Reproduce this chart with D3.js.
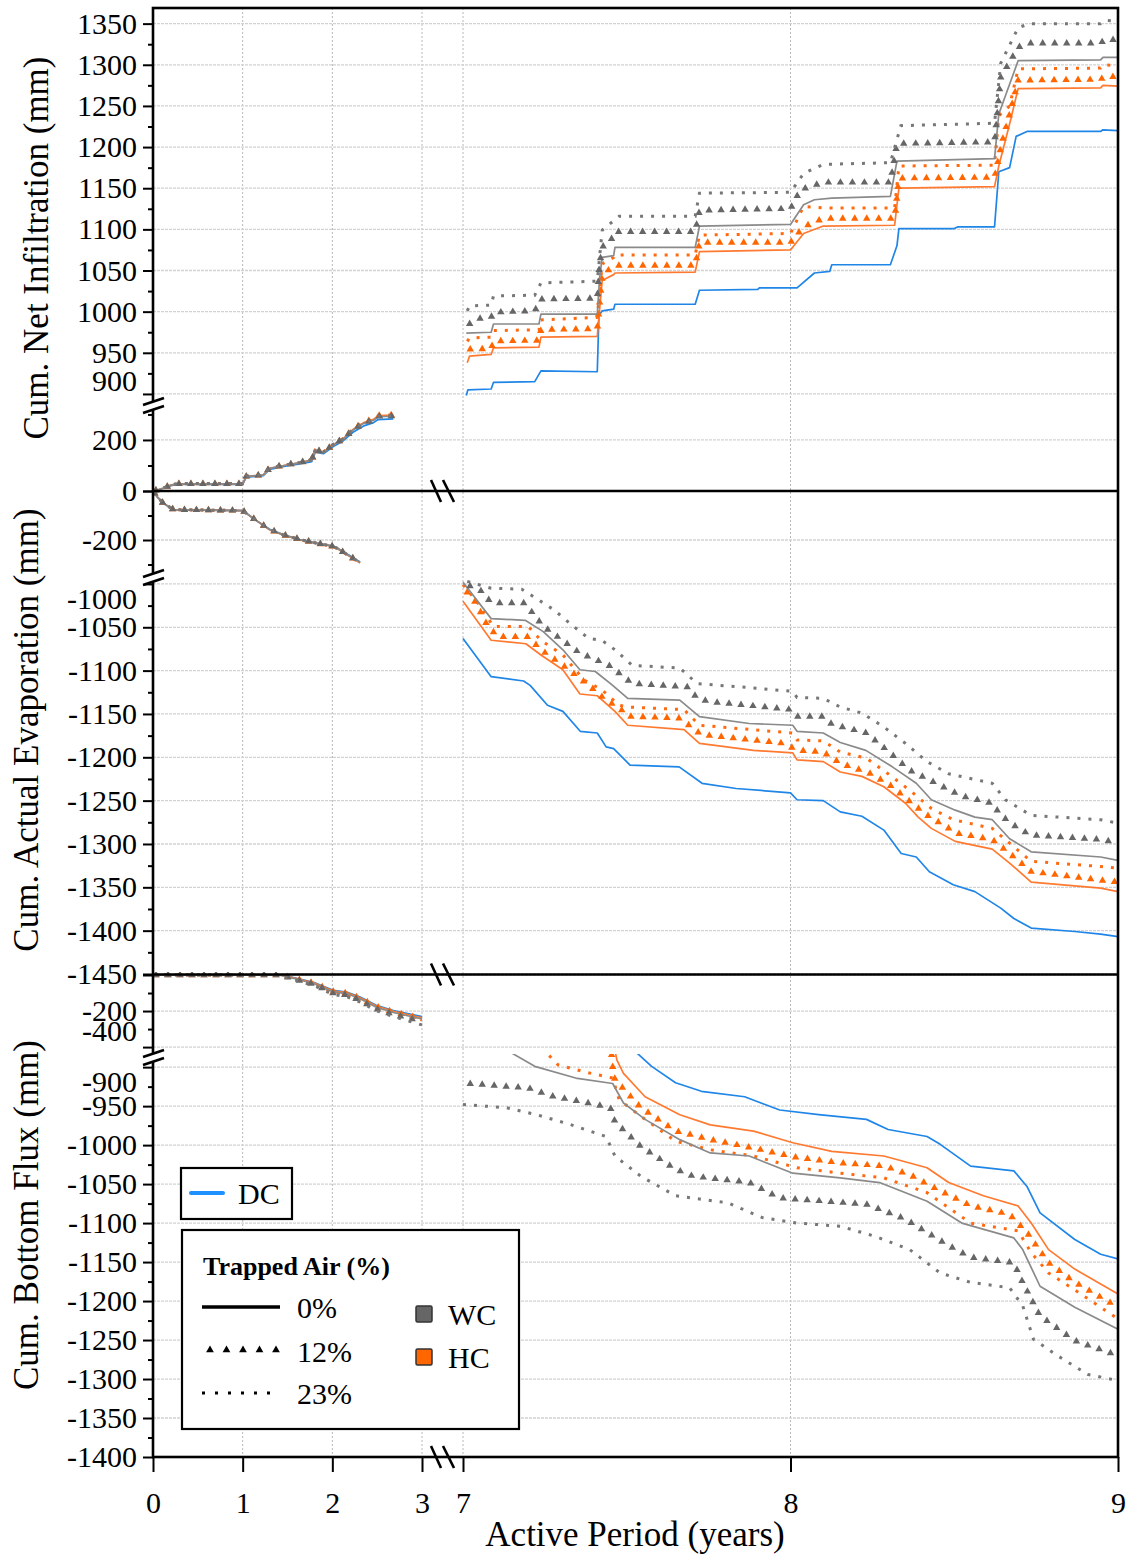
<!DOCTYPE html>
<html>
<head>
<meta charset="utf-8">
<script src="https://cdn.jsdelivr.net/npm/d3@7"></script>
<style>
  body { margin: 0; background: #fff; }
  svg text { font-family: "Liberation Serif", "Times New Roman", serif !important; fill: #000; }
</style>
</head>
<body>
<svg id="chart" width="1130" height="1557"></svg>
<script>
// ---- Cumulative net infiltration (mm): [year, value] ----
const infiltrationDC = [[0,0],[0.05,4],[0.11,10],[0.2,21],[0.28,26],[1.0,26],[1.04,54],[1.23,60],[1.3,85],[1.49,98],[1.64,106],[1.77,115],[1.81,152],[1.9,146],[2.01,174],[2.12,196],[2.23,230],[2.35,255],[2.46,268],[2.51,280],[2.68,283],
  [7.01,898],[7.015,905],[7.086,906],[7.093,914],[7.219,915],[7.238,928],[7.41,927],[7.415,995],[7.425,1001],[7.46,1003],[7.464,1009],[7.709,1009],[7.722,1026],[7.9,1027],[7.905,1029],[8.02,1029],[8.073,1047],[8.12,1049],[8.126,1057],[8.305,1057],[8.325,1080],[8.331,1101],[8.5,1101],[8.51,1103],[8.623,1103],[8.636,1170],[8.669,1175],[8.689,1213],[8.722,1219],[8.947,1219],[8.954,1221],[9.0,1220]];
const infiltrationWC0 = [[0,0],[0.05,4],[0.11,11],[0.2,23],[0.28,28],[1.0,28],[1.04,57],[1.23,63],[1.3,89],[1.49,102],[1.64,111],[1.77,121],[1.81,161],[1.9,151],[2.01,181],[2.12,203],[2.23,239],[2.35,265],[2.46,277],[2.51,291],[2.68,293],
  [7.01,974],[7.086,975],[7.093,985],[7.232,985],[7.238,997],[7.41,997],[7.417,1040],[7.425,1066],[7.46,1068],[7.464,1078],[7.709,1078],[7.722,1104],[8.0,1106],[8.04,1130],[8.073,1136],[8.126,1138],[8.305,1140],[8.325,1183],[8.623,1186],[8.636,1240],[8.656,1262],[8.695,1305],[8.947,1306],[8.954,1309],[9.0,1309]];
const infiltrationWC12 = [[0,0],[0.05,4],[0.11,11],[0.2,23],[0.28,28],[1.0,28],[1.04,57],[1.23,63],[1.3,90],[1.49,103],[1.64,112],[1.77,122],[1.81,162],[1.9,152],[2.01,182],[2.12,204],[2.23,240],[2.35,266],[2.46,278],[2.51,292],[2.68,294],
  [7.013,983],[7.04,991],[7.086,993],[7.093,999],[7.219,1001],[7.238,1015],[7.41,1016],[7.417,1060],[7.43,1083],[7.46,1090],[7.464,1097],[7.709,1097],[7.722,1123],[8.0,1125],[8.03,1148],[8.1,1157],[8.305,1157],[8.325,1204],[8.623,1206],[8.642,1285],[8.695,1321],[8.722,1326],[8.947,1326],[8.96,1331],[9.0,1330]];
const infiltrationWC23 = [[0,0],[0.05,4],[0.11,11],[0.2,24],[0.28,29],[1.0,29],[1.04,58],[1.23,64],[1.3,90],[1.49,103],[1.64,112],[1.77,122],[1.81,163],[1.9,153],[2.01,183],[2.12,205],[2.23,241],[2.35,267],[2.46,279],[2.51,293],[2.68,295],
  [7.013,1001],[7.02,1007],[7.086,1008],[7.093,1019],[7.219,1020],[7.238,1035],[7.41,1037],[7.425,1099],[7.477,1116],[7.709,1116],[7.722,1144],[8.0,1145],[8.04,1168],[8.1,1179],[8.305,1181],[8.337,1226],[8.623,1229],[8.642,1302],[8.695,1345],[8.729,1350],[8.947,1350],[8.96,1354],[9.0,1353]];
const infiltrationHC0 = [[0,0],[0.05,4],[0.11,11],[0.2,23],[0.28,28],[1.0,28],[1.04,57],[1.23,63],[1.3,89],[1.49,102],[1.64,111],[1.77,121],[1.81,160],[1.9,152],[2.01,181],[2.12,204],[2.23,241],[2.35,268],[2.46,281],[2.51,295],[2.68,297],
  [7.013,938],[7.02,946],[7.086,948],[7.093,956],[7.232,957],[7.238,969],[7.41,970],[7.425,1038],[7.46,1045],[7.464,1047],[7.709,1048],[7.722,1073],[8.0,1075],[8.04,1095],[8.1,1104],[8.318,1105],[8.331,1150],[8.623,1152],[8.636,1177],[8.669,1228],[8.695,1271],[8.947,1272],[8.954,1275],[9.0,1274]];
const infiltrationHC12 = [[0,0],[0.05,4],[0.11,11],[0.2,23],[0.28,28],[1.0,28],[1.04,57],[1.23,63],[1.3,89],[1.49,102],[1.64,111],[1.77,121],[1.81,161],[1.9,152],[2.01,181],[2.12,204],[2.23,242],[2.35,268],[2.46,282],[2.51,296],[2.68,298],
  [7.013,954],[7.086,955],[7.093,964],[7.232,965],[7.238,978],[7.41,979],[7.425,1046],[7.46,1054],[7.464,1056],[7.709,1056],[7.722,1084],[8.0,1084],[8.04,1103],[8.1,1113],[8.318,1113],[8.331,1162],[8.623,1163],[8.645,1205],[8.669,1240],[8.695,1281],[8.947,1282],[8.96,1286],[9.0,1285]];
const infiltrationHC23 = [[0,0],[0.05,4],[0.11,11],[0.2,23],[0.28,28],[1.0,28],[1.04,57],[1.23,63],[1.3,90],[1.49,103],[1.64,112],[1.77,122],[1.81,161],[1.9,153],[2.01,182],[2.12,205],[2.23,242],[2.35,269],[2.46,282],[2.51,296],[2.68,298],
  [7.013,964],[7.02,968],[7.086,969],[7.093,977],[7.232,978],[7.238,990],[7.41,993],[7.425,1058],[7.46,1066],[7.464,1069],[7.709,1069],[7.722,1093],[8.0,1095],[8.04,1128],[8.1,1126],[8.318,1126],[8.331,1177],[8.623,1178],[8.636,1238],[8.669,1250],[8.695,1295],[8.947,1296],[8.954,1300],[9.0,1299]];

// ---- Cumulative actual evaporation (mm) ----
const evaporationDC = [[0,0],[0.05,-25],[0.115,-50],[0.23,-76],[1.0,-80],[1.16,-122],[1.3,-156],[1.45,-178],[1.64,-200],[1.82,-214],[2.0,-224],[2.05,-231],[2.16,-256],[2.31,-290],
  [7.0,-1063],[7.086,-1107],[7.185,-1112],[7.205,-1117],[7.258,-1140],[7.305,-1147],[7.358,-1170],[7.41,-1172],[7.437,-1188],[7.46,-1190],[7.51,-1209],[7.66,-1211],[7.73,-1230],[7.834,-1236],[8.0,-1241],[8.02,-1249],[8.1,-1250],[8.152,-1263],[8.218,-1268],[8.285,-1284],[8.338,-1311],[8.384,-1315],[8.424,-1332],[8.497,-1347],[8.563,-1355],[8.642,-1374],[8.682,-1386],[8.735,-1397],[8.868,-1401],[8.947,-1404],[9.0,-1407]];
const evaporationWC0 = [[0,0],[0.05,-25],[0.115,-50],[0.23,-76],[1.0,-80],[1.16,-123],[1.3,-157],[1.45,-178],[1.64,-198],[1.82,-212],[2.0,-225],[2.05,-233],[2.16,-258],[2.31,-292],
  [7.0,-998],[7.086,-1040],[7.19,-1042],[7.245,-1055],[7.305,-1076],[7.357,-1099],[7.404,-1101],[7.457,-1117],[7.503,-1132],[7.662,-1134],[7.722,-1153],[7.874,-1161],[8.007,-1163],[8.02,-1170],[8.1,-1172],[8.152,-1183],[8.23,-1192],[8.311,-1211],[8.384,-1230],[8.43,-1249],[8.503,-1261],[8.563,-1269],[8.616,-1272],[8.669,-1294],[8.735,-1309],[8.947,-1315],[9.0,-1319]];
const evaporationWC12 = [[0,0],[0.05,-25],[0.115,-50],[0.23,-76],[1.0,-80],[1.16,-123],[1.3,-157],[1.45,-178],[1.64,-198],[1.82,-212],[2.0,-225],[2.05,-233],[2.16,-258],[2.31,-293],
  [7.013,-1001],[7.06,-1009],[7.08,-1019],[7.093,-1022],[7.185,-1022],[7.205,-1030],[7.245,-1049],[7.318,-1069],[7.357,-1080],[7.397,-1086],[7.45,-1095],[7.49,-1107],[7.517,-1115],[7.689,-1119],[7.715,-1132],[7.755,-1136],[8.0,-1145],[8.02,-1153],[8.1,-1153],[8.126,-1162],[8.232,-1172],[8.298,-1193],[8.364,-1215],[8.444,-1230],[8.523,-1245],[8.616,-1253],[8.642,-1267],[8.695,-1282],[8.735,-1290],[8.947,-1295],[9.0,-1299]];
const evaporationWC23 = [[0,0],[0.05,-25],[0.115,-50],[0.23,-76],[1.0,-80],[1.16,-123],[1.3,-157],[1.45,-178],[1.64,-198],[1.82,-212],[2.0,-225],[2.05,-233],[2.16,-258],[2.31,-293],
  [7.013,-997],[7.086,-1005],[7.179,-1006],[7.225,-1017],[7.278,-1030],[7.331,-1047],[7.384,-1063],[7.424,-1065],[7.464,-1076],[7.517,-1094],[7.662,-1097],[7.715,-1115],[7.887,-1120],[8.007,-1124],[8.02,-1131],[8.1,-1132],[8.152,-1142],[8.218,-1149],[8.285,-1165],[8.351,-1184],[8.417,-1205],[8.483,-1219],[8.616,-1230],[8.656,-1249],[8.735,-1267],[8.947,-1272],[9.0,-1276]];
const evaporationHC0 = [[0,0],[0.05,-25],[0.115,-50],[0.23,-76],[1.0,-80],[1.16,-123],[1.3,-158],[1.45,-179],[1.64,-199],[1.82,-213],[2.0,-226],[2.05,-234],[2.16,-259],[2.31,-294],
  [7.0,-1020],[7.086,-1065],[7.192,-1069],[7.238,-1082],[7.305,-1099],[7.357,-1127],[7.41,-1129],[7.464,-1147],[7.503,-1163],[7.675,-1168],[7.722,-1184],[7.887,-1192],[8.007,-1195],[8.02,-1203],[8.1,-1205],[8.152,-1217],[8.218,-1222],[8.285,-1234],[8.351,-1253],[8.39,-1269],[8.43,-1282],[8.503,-1297],[8.616,-1306],[8.669,-1322],[8.735,-1344],[8.947,-1351],[9.0,-1355]];
const evaporationHC12 = [[0,0],[0.05,-25],[0.115,-50],[0.23,-76],[1.0,-80],[1.16,-123],[1.3,-158],[1.45,-179],[1.64,-199],[1.82,-213],[2.0,-226],[2.05,-234],[2.16,-259],[2.31,-294],
  [7.007,-1007],[7.04,-1022],[7.073,-1047],[7.106,-1061],[7.199,-1061],[7.238,-1076],[7.305,-1094],[7.384,-1117],[7.43,-1132],[7.483,-1145],[7.503,-1153],[7.662,-1155],[7.728,-1174],[7.98,-1184],[8.02,-1192],[8.1,-1194],[8.152,-1207],[8.245,-1219],[8.311,-1234],[8.364,-1251],[8.417,-1267],[8.51,-1288],[8.616,-1295],[8.669,-1311],[8.735,-1332],[8.947,-1342],[9.0,-1344]];
const evaporationHC23 = [[0,0],[0.05,-25],[0.115,-50],[0.23,-76],[1.0,-80],[1.16,-123],[1.3,-158],[1.45,-179],[1.64,-199],[1.82,-213],[2.0,-226],[2.05,-234],[2.16,-259],[2.31,-294],
  [7.0,-1001],[7.04,-1019],[7.093,-1049],[7.199,-1049],[7.238,-1065],[7.305,-1082],[7.37,-1111],[7.424,-1122],[7.477,-1140],[7.503,-1142],[7.675,-1145],[7.722,-1163],[8.007,-1172],[8.02,-1180],[8.1,-1181],[8.152,-1194],[8.232,-1201],[8.298,-1219],[8.364,-1238],[8.43,-1259],[8.497,-1272],[8.616,-1282],[8.669,-1299],[8.735,-1320],[8.947,-1326],[9.0,-1328]];

// ---- Cumulative bottom flux (mm) ----
const bottomFluxDC = [[0,0],[1.45,0],[1.53,-10],[1.79,-40],[2.01,-85],[2.16,-95],[2.31,-122],[2.49,-168],[2.68,-198],[3.0,-231],
  [7.5,-870],[7.576,-899],[7.649,-920],[7.728,-931],[7.86,-938],[7.967,-955],[8.086,-961],[8.232,-967],[8.298,-980],[8.417,-989],[8.457,-999],[8.55,-1027],[8.682,-1033],[8.722,-1053],[8.762,-1087],[8.868,-1121],[8.947,-1140],[9.0,-1146]];
const bottomFluxWC0 = [[0,0],[1.4,0],[1.53,-14],[1.79,-47],[2.01,-94],[2.16,-103],[2.31,-132],[2.49,-179],[2.68,-208],[3.0,-244],
  [7.1,-870],[7.219,-899],[7.344,-914],[7.457,-921],[7.49,-946],[7.556,-967],[7.662,-993],[7.755,-1010],[7.874,-1014],[8.007,-1036],[8.152,-1042],[8.272,-1048],[8.417,-1072],[8.523,-1100],[8.682,-1119],[8.709,-1134],[8.762,-1181],[8.868,-1208],[9.0,-1236]];
const bottomFluxWC12 = [[0,0],[1.39,0],[1.53,-17],[1.79,-52],[2.01,-101],[2.16,-111],[2.31,-141],[2.49,-189],[2.68,-219],[3.0,-259],
  [7.013,-921],[7.2,-927],[7.278,-938],[7.357,-944],[7.45,-952],[7.464,-970],[7.543,-1002],[7.649,-1031],[7.702,-1040],[7.874,-1048],[7.967,-1068],[8.232,-1076],[8.351,-1095],[8.483,-1129],[8.55,-1144],[8.682,-1151],[8.709,-1176],[8.762,-1219],[8.868,-1251],[9.0,-1270]];
const bottomFluxWC23 = [[0,0],[1.38,0],[1.53,-20],[1.79,-58],[2.01,-108],[2.16,-120],[2.31,-150],[2.49,-198],[2.68,-230],[3.0,-277],
  [7.0,-948],[7.132,-952],[7.225,-961],[7.331,-974],[7.437,-989],[7.464,-1014],[7.543,-1040],[7.649,-1065],[7.808,-1074],[7.914,-1093],[8.02,-1100],[8.152,-1104],[8.258,-1117],[8.364,-1134],[8.457,-1164],[8.55,-1176],[8.669,-1183],[8.709,-1206],[8.742,-1249],[8.815,-1270],[8.907,-1294],[9.0,-1302]];
const bottomFluxHC0 = [[0,0],[1.42,0],[1.53,-12],[1.79,-43],[2.01,-89],[2.16,-98],[2.31,-126],[2.49,-172],[2.68,-201],[3.0,-237],
  [7.455,-860],[7.47,-891],[7.49,-908],[7.556,-938],[7.662,-961],[7.755,-974],[7.887,-982],[8.007,-997],[8.126,-1008],[8.285,-1014],[8.417,-1029],[8.483,-1048],[8.589,-1065],[8.695,-1078],[8.735,-1100],[8.788,-1134],[8.868,-1159],[9.0,-1191]];
const bottomFluxHC12 = [[0,0],[1.41,0],[1.53,-13],[1.79,-46],[2.01,-92],[2.16,-101],[2.31,-130],[2.49,-176],[2.68,-206],[3.0,-243],
  [7.45,-865],[7.457,-899],[7.464,-916],[7.497,-931],[7.543,-952],[7.649,-982],[7.755,-993],[7.887,-1004],[8.02,-1016],[8.152,-1023],[8.285,-1027],[8.364,-1038],[8.43,-1053],[8.55,-1078],[8.669,-1089],[8.722,-1112],[8.788,-1151],[8.868,-1176],[9.0,-1208]];
const bottomFluxHC23 = [[0,0],[1.4,0],[1.53,-15],[1.79,-49],[2.01,-96],[2.16,-105],[2.31,-135],[2.49,-182],[2.68,-212],[3.0,-249],
  [7.24,-875],[7.29,-897],[7.37,-906],[7.457,-914],[7.477,-942],[7.543,-963],[7.649,-995],[7.755,-1006],[7.887,-1014],[8.02,-1029],[8.152,-1036],[8.285,-1042],[8.417,-1061],[8.55,-1100],[8.695,-1110],[8.735,-1138],[8.788,-1164],[8.88,-1189],[9.0,-1223]];

// ---- Axis ticks and labels ----
const yearTicksEarly = [0, 1, 2, 3];
const yearTicksLate = [7, 8, 9];
const infiltrationTicksHigh = [900, 950, 1000, 1050, 1100, 1150, 1200, 1250, 1300, 1350];
const infiltrationTicksLow = [0, 200];
const evaporationTicksHigh = [0, -200];
const evaporationTicksLow = [-1000, -1050, -1100, -1150, -1200, -1250, -1300, -1350, -1400, -1450];
const fluxTicksHigh = [0, -200, -400];
const fluxTicksLow = [-900, -950, -1000, -1050, -1100, -1150, -1200, -1250, -1300, -1350, -1400];
const columns = ["DC", "WC", "HC"];
const trappedAir = ["0%", "12%", "23%"];

const colors = { DC: "#1f86e8", WC: "#767676", HC: "#ff6a10" };
const SERIF = '"Liberation Serif", "Times New Roman", serif';

const svg = d3.select("#chart");
const L = 153, R = 1118, TOP = 8, BOTTOM = 1457;

const xEarly = d3.scaleLinear().domain([0, 3]).range([153, 422]);
const xLate = d3.scaleLinear().domain([7, 9]).range([463, 1118]);

// Each panel has a segment near zero (early years) and a segment far from zero (late years)
const panels = [
  {
    title: "Cum. Net Infiltration (mm)", titleX: 48, titleY: 248, breakY: 405,
    near: { domain: [0, 337], range: [491, 405], majors: infiltrationTicksLow, minors: [100, 300], labels: [0, 200], shift: {} },
    far: { domain: [889, 1369], range: [403, 8], majors: infiltrationTicksHigh, minors: d3.range(925, 1350, 50), labels: infiltrationTicksHigh, shift: { 900: -13 } },
    series: { DC: infiltrationDC, WC0: infiltrationWC0, WC12: infiltrationWC12, WC23: infiltrationWC23, HC0: infiltrationHC0, HC12: infiltrationHC12, HC23: infiltrationHC23 }
  },
  {
    title: "Cum. Actual Evaporation (mm)", titleX: 38, titleY: 730, breakY: 577,
    near: { domain: [-351, 0], range: [577, 491], majors: evaporationTicksHigh, minors: [-100, -300], labels: [-200], shift: {} },
    far: { domain: [-1450, -992], range: [974, 577], majors: evaporationTicksLow, minors: d3.range(-1025, -1450, -50), labels: evaporationTicksLow, shift: { "-1000": 15 } },
    series: { DC: evaporationDC, WC0: evaporationWC0, WC12: evaporationWC12, WC23: evaporationWC23, HC0: evaporationHC0, HC12: evaporationHC12, HC23: evaporationHC23 }
  },
  {
    title: "Cum. Bottom Flux (mm)", titleX: 38, titleY: 1215, breakY: 1057,
    near: { domain: [-455, 0], range: [1057, 975], majors: fluxTicksHigh, minors: [-100, -300], labels: [-200, -400], shift: { "-400": -16 } },
    far: { domain: [-1400, -887], range: [1457, 1057], majors: fluxTicksLow, minors: d3.range(-925, -1400, -50), labels: fluxTicksLow, shift: { "-900": 15 } },
    series: { DC: bottomFluxDC, WC0: bottomFluxWC0, WC12: bottomFluxWC12, WC23: bottomFluxWC23, HC0: bottomFluxHC0, HC12: bottomFluxHC12, HC23: bottomFluxHC23 }
  }
];

const styles = [
  { key: "DC", kind: "solid", color: colors.DC },
  { key: "HC0", kind: "solid", color: "#ff7a30" },
  { key: "HC12", kind: "tri", color: "#ff6600" },
  { key: "HC23", kind: "dot", color: "#ff6a10" },
  { key: "WC0", kind: "solid", color: "#8a8a8a" },
  { key: "WC12", kind: "tri", color: "#666666" },
  { key: "WC23", kind: "dot", color: "#777777" }
];

const defs = svg.append("defs");
const gGrid = svg.append("g");
const gData = svg.append("g");
const gFrame = svg.append("g");

// vertical grid lines
[[xEarly, [1, 2, 3]], [xLate, [7, 8]]].forEach(([sc, vals]) => {
  vals.forEach(v => {
    gGrid.append("line").attr("x1", sc(v)).attr("x2", sc(v)).attr("y1", TOP).attr("y2", BOTTOM)
      .attr("stroke", "#b8b8b8").attr("stroke-width", 1).attr("stroke-dasharray", "2,2");
  });
});

let clipId = 0;
panels.forEach(p => {
  ["near", "far"].forEach(segKey => {
    const seg = p[segKey];
    seg.y = d3.scaleLinear().domain(seg.domain).range(seg.range);
    const y0 = Math.min(...seg.range), y1 = Math.max(...seg.range);
    seg.clip = "clip" + (clipId++);
    defs.append("clipPath").attr("id", seg.clip).append("rect")
      .attr("x", L).attr("y", y0 - 3).attr("width", R - L).attr("height", y1 - y0 + 6);

    // horizontal grid lines
    seg.majors.forEach(v => {
      gGrid.append("line").attr("x1", L).attr("x2", R).attr("y1", seg.y(v)).attr("y2", seg.y(v))
        .attr("stroke", "#d2d2d2").attr("stroke-width", 1.3).attr("stroke-dasharray", "3,1");
    });

    // major ticks with labels
    const ax = d3.axisLeft(seg.y).tickValues(seg.majors).tickSize(10).tickPadding(6)
      .tickFormat(v => seg.labels.includes(v) ? String(v) : "");
    const ga = gFrame.append("g").attr("transform", `translate(${L},0)`).call(ax);
    ga.select(".domain").remove();
    ga.selectAll(".tick line").attr("stroke", "#000").attr("stroke-width", 2);
    ga.selectAll(".tick text").attr("font-size", 30).attr("fill", "#000")
      .style("font-family", SERIF)
      .attr("transform", v => `translate(0,${seg.shift[v] || 0})`);

    // minor ticks
    const mx = d3.axisLeft(seg.y).tickValues(seg.minors).tickSize(5).tickFormat("");
    const gm = gFrame.append("g").attr("transform", `translate(${L},0)`).call(mx);
    gm.select(".domain").remove();
    gm.selectAll(".tick line").attr("stroke", "#000").attr("stroke-width", 2);
  });

  // data
  styles.forEach(st => {
    const data = p.series[st.key];
    const parts = [
      { pts: data.filter(d => d[0] < 5), x: xEarly, seg: p.near },
      { pts: data.filter(d => d[0] > 5), x: xLate, seg: p.far }
    ];
    parts.forEach(part => {
      if (!part.pts.length) return;
      const line = d3.line().x(d => part.x(d[0])).y(d => part.seg.y(d[1]));
      const g = gData.append("g").attr("clip-path", `url(#${part.seg.clip})`);
      const path = g.append("path").attr("d", line(part.pts)).attr("fill", "none");
      if (st.kind === "solid") {
        path.attr("stroke", st.color).attr("stroke-width", 1.7).attr("stroke-linejoin", "round");
      } else if (st.kind === "dot") {
        path.attr("stroke", st.color).attr("stroke-width", 3).attr("stroke-dasharray", "3,8");
      } else {
        path.attr("stroke", "none");
        const node = path.node();
        const len = node.getTotalLength();
        const sym = d3.symbol().type(d3.symbolTriangle).size(24)();
        for (let s = 3; s <= len; s += 12) {
          const pt = node.getPointAtLength(s);
          g.append("path").attr("d", sym).attr("fill", st.color)
            .attr("transform", `translate(${pt.x},${pt.y})`);
        }
      }
    });
  });

  // axis title
  gFrame.append("text").attr("transform", `translate(${p.titleX},${p.titleY}) rotate(-90)`)
    .attr("text-anchor", "middle").attr("font-size", 35).style("font-family", SERIF).text(p.title);
});

// frame and panel separators
const frameAttrs = sel => sel.attr("stroke", "#000").attr("stroke-width", 2.6).attr("fill", "none");
frameAttrs(gFrame.append("rect").attr("x", L).attr("y", TOP).attr("width", R - L).attr("height", BOTTOM - TOP));
[491, 974.5].forEach(yy => frameAttrs(gFrame.append("line").attr("x1", L).attr("x2", R).attr("y1", yy).attr("y2", yy)));

// breaks on the horizontal lines
[491, 974.5, 1457].forEach(yy => {
  [[431, 441], [443, 454]].forEach(([a, b]) => {
    gFrame.append("line").attr("x1", a).attr("y1", yy - 11).attr("x2", b).attr("y2", yy + 11)
      .attr("stroke", "#000").attr("stroke-width", 2.6);
  });
});

// breaks on the left axis
panels.forEach(p => {
  const c = p.breakY;
  gFrame.append("polygon").attr("points", `143,${c} 164,${c - 7} 164,${c + 1} 143,${c + 8}`).attr("fill", "#fff");
  [0, 8].forEach(o => {
    gFrame.append("line").attr("x1", 143).attr("y1", c + o).attr("x2", 164).attr("y2", c + o - 7)
      .attr("stroke", "#000").attr("stroke-width", 2.6);
  });
});

// x axis
[[xEarly, yearTicksEarly], [xLate, yearTicksLate]].forEach(([sc, vals]) => {
  const gx = gFrame.append("g").attr("transform", `translate(0,${BOTTOM})`)
    .call(d3.axisBottom(sc).tickValues(vals).tickSize(15).tickPadding(20).tickFormat(d3.format("d")));
  gx.select(".domain").remove();
  gx.selectAll(".tick line").attr("stroke", "#000").attr("stroke-width", 2);
  gx.selectAll(".tick text").attr("font-size", 30).attr("fill", "#000").style("font-family", SERIF);
});
gFrame.append("text").attr("x", 635).attr("y", 1546).attr("text-anchor", "middle")
  .attr("font-size", 35).text("Active Period (years)");

// legends
const lg = svg.append("g");
lg.append("rect").attr("x", 181).attr("y", 1168).attr("width", 111).attr("height", 51)
  .attr("fill", "#fff").attr("stroke", "#000").attr("stroke-width", 2.2);
lg.append("line").attr("x1", 191).attr("x2", 223).attr("y1", 1193).attr("y2", 1193)
  .attr("stroke", "#1e90ff").attr("stroke-width", 4).attr("stroke-linecap", "round");
lg.append("text").attr("x", 238).attr("y", 1193).attr("dy", "0.35em").attr("font-size", 30).text(columns[0]);

lg.append("rect").attr("x", 182).attr("y", 1230).attr("width", 337).attr("height", 199)
  .attr("fill", "#fff").attr("stroke", "#000").attr("stroke-width", 2.2);
lg.append("text").attr("x", 203).attr("y", 1275).attr("font-size", 26).attr("font-weight", "bold").text("Trapped Air (%)");

const rowY = [1307, 1351, 1393];
lg.append("line").attr("x1", 202).attr("x2", 280).attr("y1", rowY[0]).attr("y2", rowY[0])
  .attr("stroke", "#000").attr("stroke-width", 3.5);
const legendTri = d3.symbol().type(d3.symbolTriangle).size(26)();
d3.range(5).forEach(i => {
  lg.append("path").attr("d", legendTri).attr("fill", "#000")
    .attr("transform", `translate(${210 + i * 16.5},${rowY[1] - 1})`);
});
d3.range(6).forEach(i => {
  lg.append("rect").attr("x", 202 + i * 13).attr("y", rowY[2] - 1.5).attr("width", 3).attr("height", 3).attr("fill", "#000");
});
trappedAir.forEach((t, i) => {
  lg.append("text").attr("x", 297).attr("y", rowY[i]).attr("dy", "0.35em").attr("font-size", 30).text(t);
});
[[columns[1], 1314], [columns[2], 1357]].forEach(([name, yy]) => {
  lg.append("rect").attr("x", 416).attr("y", yy - 8).attr("width", 16).attr("height", 16)
    .attr("fill", name === "WC" ? "#666" : "#ff6600").attr("stroke", "#333").attr("stroke-width", 1.5).attr("rx", 1.5);
  lg.append("text").attr("x", 448).attr("y", yy).attr("dy", "0.35em").attr("font-size", 30).text(name);
});
</script>
</body>
</html>
